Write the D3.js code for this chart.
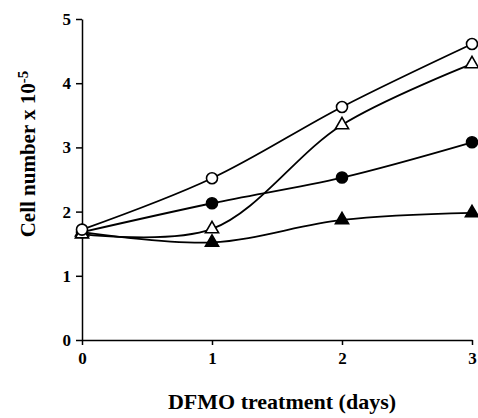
<!DOCTYPE html>
<html>
<head>
<meta charset="utf-8">
<script src="https://cdn.jsdelivr.net/npm/d3@7"></script>
<style>
  body { margin: 0; background: #fff; }
  text { font-family: "Liberation Serif", "Times New Roman", serif; font-weight: bold; }
</style>
</head>
<body>
<div id="chart"></div>
<script>
// days of DFMO treatment
const days = [0, 1, 2, 3];
const xTicks = [0, 1, 2, 3];
const yTicks = [0, 1, 2, 3, 4, 5];

// cell number x 10^-5
const openCircle = [1.72, 2.52, 3.63, 4.61];
const openTriangle = [1.65, 1.73, 3.35, 4.3];
const filledCircle = [1.68, 2.13, 2.53, 3.08];
const filledTriangle = [1.68, 1.52, 1.87, 1.98];

const width = 478, height = 418;
const margin = {left: 82, right: 6, top: 19, bottom: 78};

const svg = d3.select('#chart').append('svg')
  .attr('width', width)
  .attr('height', height);

const x = d3.scaleLinear().domain([0, 3]).range([margin.left, width - margin.right]);
const y = d3.scaleLinear().domain([0, 5]).range([height - margin.bottom, margin.top]);

// axes
const xAxis = svg.append('g')
  .attr('transform', `translate(0,${y(0)})`)
  .call(d3.axisBottom(x).tickValues(xTicks).tickFormat(d3.format('d'))
    .tickSize(5).tickPadding(7).tickSizeOuter(0));
const yAxis = svg.append('g')
  .attr('transform', `translate(${x(0)},0)`)
  .call(d3.axisLeft(y).tickValues(yTicks).tickFormat(d3.format('d'))
    .tickSize(6).tickPadding(5).tickSizeOuter(0));

[xAxis, yAxis].forEach(a => {
  a.select('.domain').attr('stroke', '#000').attr('stroke-width', 1.5);
  a.selectAll('.tick line').attr('stroke', '#000').attr('stroke-width', 1.5);
  a.selectAll('.tick text')
    .attr('fill', '#000')
    .style('font-size', '17px')
    .style('font-family', '"Liberation Serif", serif')
    .style('font-weight', 'bold');
});

// axis titles
svg.append('text')
  .attr('x', 282)
  .attr('y', 409)
  .attr('text-anchor', 'middle')
  .style('font-size', '22px')
  .text('DFMO treatment (days)');

const yt = svg.append('text')
  .attr('transform', 'translate(35,154) rotate(-90)')
  .attr('text-anchor', 'middle')
  .style('font-size', '21px');
yt.append('tspan').text('Cell number x 10');
yt.append('tspan').attr('dy', -7).style('font-size', '15px').text('-5');

const line = d3.line()
  .x((d, i) => x(days[i]))
  .y(d => y(d))
  .curve(d3.curveCatmullRom);

const series = [
  {values: filledTriangle, shape: 'triangle', fill: '#000'},
  {values: filledCircle, shape: 'circle', fill: '#000'},
  {values: openTriangle, shape: 'triangle', fill: '#fff'},
  {values: openCircle, shape: 'circle', fill: '#fff'}
];

series.forEach(s => {
  svg.append('path')
    .datum(s.values)
    .attr('d', line)
    .attr('fill', 'none')
    .attr('stroke', '#000')
    .attr('stroke-width', 1.8);
});

const triangle = d3.symbol().type(d3.symbolTriangle).size(75);
series.forEach(s => {
  const g = svg.append('g');
  if (s.shape === 'circle') {
    g.selectAll('circle')
      .data(s.values)
      .join('circle')
      .attr('cx', (d, i) => x(days[i]))
      .attr('cy', d => y(d))
      .attr('r', 5.5)
      .attr('fill', s.fill)
      .attr('stroke', '#000')
      .attr('stroke-width', 1.6);
  } else {
    g.selectAll('path')
      .data(s.values)
      .join('path')
      .attr('d', triangle)
      .attr('transform', (d, i) => `translate(${x(days[i])},${y(d)})`)
      .attr('fill', s.fill)
      .attr('stroke', '#000')
      .attr('stroke-width', 1.6);
  }
});
</script>
</body>
</html>
